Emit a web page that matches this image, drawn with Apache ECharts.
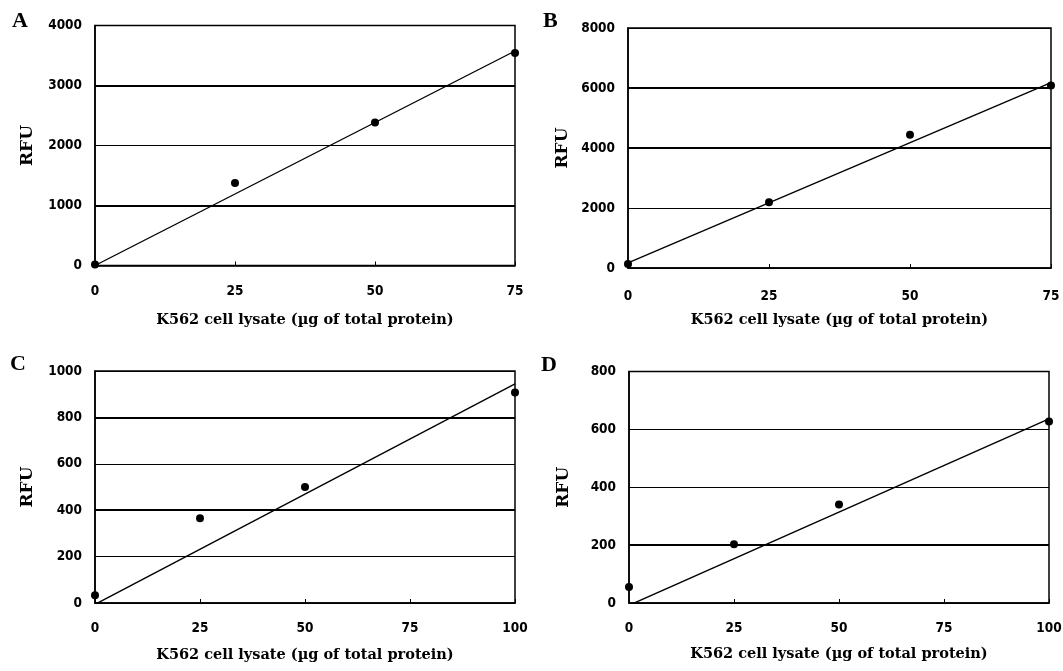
<!DOCTYPE html>
<html><head><meta charset="utf-8">
<script src="https://cdn.jsdelivr.net/npm/echarts@6/dist/echarts.min.js"></script>
<style>html,body{margin:0;padding:0;background:#fff}#c{width:1063px;height:671px}</style>
</head><body><div id="c"></div>
<script>
// ---- data ----
const panelLetters = ['A', 'B', 'C', 'D'];
const xTitle = 'K562 cell lysate (\u00b5g of total protein)';
const yTitle = 'RFU';

const doseAB = [0, 25, 50, 75];
const doseCD = [0, 25, 50, 100];

const rfuA = [15, 1375, 2385, 3540];
const rfuB = [130, 2190, 4440, 6080];
const rfuC = [33, 365, 500, 907];
const rfuD = [55, 203, 340, 627];

// fitted trend lines (end points)
const trendA = [[0, 0], [75, 3575]];
const trendB = [[0, 170], [75, 6180]];
const trendC = [[0, -6], [100, 945]];
const trendD = [[0, -8], [100, 636]];

const xMaxAB = 75, xMaxCD = 100, xStep = 25;
const yMaxA = 4000, yStepA = 1000;
const yMaxB = 8000, yStepB = 2000;
const yMaxC = 1000, yStepC = 200;
const yMaxD = 800, yStepD = 200;

// ---- layout / style ----
const panels = [
  {x: doseAB, y: rfuA, trend: trendA, xMax: xMaxAB, yMax: yMaxA, yStep: yStepA, thick: [1000, 3000],
   grid: {left: 95, top: 25.5, width: 420, height: 240}, labelMargin: 19, nameGap: 47, yNameGap: 59,
   letter: {x: 12, y: 10}},
  {x: doseAB, y: rfuB, trend: trendB, xMax: xMaxAB, yMax: yMaxB, yStep: yStepB, thick: [4000, 6000],
   grid: {left: 628, top: 28, width: 423, height: 240}, labelMargin: 21, nameGap: 45, yNameGap: 57,
   letter: {x: 543, y: 10}},
  {x: doseCD, y: rfuC, trend: trendC, xMax: xMaxCD, yMax: yMaxC, yStep: yStepC, thick: [400, 800],
   grid: {left: 95, top: 371, width: 420, height: 232}, labelMargin: 18, nameGap: 45, yNameGap: 59,
   letter: {x: 10, y: 353}},
  {x: doseCD, y: rfuD, trend: trendD, xMax: xMaxCD, yMax: yMaxD, yStep: yStepD, thick: [200],
   grid: {left: 629, top: 371.5, width: 420, height: 231.5}, labelMargin: 18, nameGap: 44, yNameGap: 57,
   letter: {x: 541, y: 354}}
];

const tickFont = {fontFamily: "'DejaVu Sans Condensed','DejaVu Sans',sans-serif", fontWeight: 'bold', fontSize: 13.5, color: '#000'};
const titleFont = {fontFamily: "'DejaVu Serif',serif", fontWeight: 'bold', fontSize: 14.5, color: '#000'};

const option = {
  animation: false,
  backgroundColor: '#fff',
  grid: [], xAxis: [], yAxis: [], series: [], graphic: []
};

panels.forEach((p, i) => {
  option.grid.push(Object.assign({show: true, borderColor: '#000', borderWidth: 1.5, backgroundColor: '#fff',
    containLabel: false, outerBoundsMode: 'none'}, p.grid));
  option.xAxis.push({
    gridIndex: i, type: 'value', min: 0, max: p.xMax, interval: xStep,
    name: xTitle, nameLocation: 'middle', nameGap: p.nameGap, nameTextStyle: titleFont,
    axisLine: {show: true, onZero: false, lineStyle: {color: '#000', width: 1.5}},
    axisTick: {show: true, inside: true, length: 4, lineStyle: {color: '#000', width: 1}},
    axisLabel: Object.assign({margin: p.labelMargin, formatter: v => String(v)}, tickFont),
    splitLine: {show: false}
  });
  option.yAxis.push({
    gridIndex: i, type: 'value', min: 0, max: p.yMax, interval: p.yStep,
    name: yTitle, nameLocation: 'middle', nameGap: p.yNameGap, nameRotate: 90,
    nameTextStyle: Object.assign({}, titleFont, {fontSize: 17}),
    axisLine: {show: true, onZero: false, lineStyle: {color: '#000', width: 1.5}},
    axisTick: {show: false},
    axisLabel: Object.assign({margin: 13, formatter: v => String(v)}, tickFont),
    splitLine: {show: true, lineStyle: {color: '#000', width: 1}}
  });
  option.series.push({
    type: 'line', xAxisIndex: i, yAxisIndex: i, data: p.trend, showSymbol: false, symbol: 'none',
    lineStyle: {color: '#000', width: 1.4}, silent: true, clip: true, z: 3,
    markLine: {silent: true, symbol: 'none', label: {show: false},
      lineStyle: {color: '#000', width: 2.2, type: 'solid'},
      data: p.thick.map(v => ({yAxis: v}))}
  });
  option.series.push({
    type: 'scatter', xAxisIndex: i, yAxisIndex: i,
    data: p.x.map((xv, k) => [xv, p.y[k]]),
    symbol: 'circle', symbolSize: 8, itemStyle: {color: '#000', opacity: 1}, clip: false, z: 4
  });
  option.graphic.push({type: 'text', left: p.letter.x, top: p.letter.y,
    style: {text: panelLetters[i], font: "bold 22px 'Liberation Serif', serif", fill: '#000'}});
});

const chart = echarts.init(document.getElementById('c'), null, {renderer: 'canvas'});
chart.setOption(option);
</script>
</body></html>
